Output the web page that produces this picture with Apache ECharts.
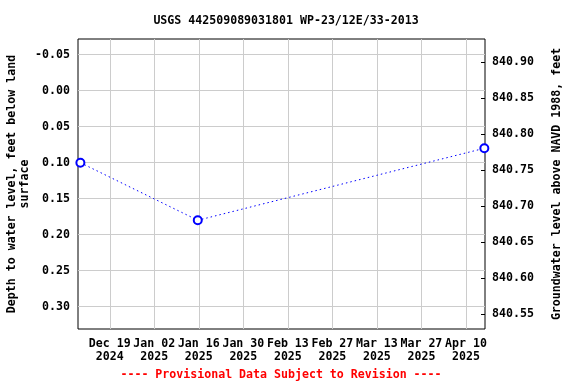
<!DOCTYPE html>
<html>
<head>
<meta charset="utf-8">
<script src="https://cdn.jsdelivr.net/npm/echarts@6/dist/echarts.min.js"></script>
<style>html,body{margin:0;padding:0;background:#fff}#c{width:576px;height:384px}</style>
</head>
<body>
<div id="c"></div>
<script>
const titleText = 'USGS 442509089031801 WP-23/12E/33-2013';
const sampleDates = ['2024-12-09T18:00:00Z', '2025-01-15T16:00:00Z', '2025-04-15T19:00:00Z'];
const depthValues = [0.10, 0.18, 0.08];
const landSurfaceElevation = 840.8606;
const xTickDates = ['2024-12-19', '2025-01-02', '2025-01-16', '2025-01-30', '2025-02-13', '2025-02-27', '2025-03-13', '2025-03-27', '2025-04-10'];
const depthTicks = [-0.05, 0.00, 0.05, 0.10, 0.15, 0.20, 0.25, 0.30];
const levelTicks = [840.55, 840.60, 840.65, 840.70, 840.75, 840.80, 840.85, 840.90];
const xRange = ['2024-12-09T00:00:00Z', '2025-04-16T00:00:00Z'];
const depthRange = [-0.0718, 0.331];

const MONTHS = ['Jan','Feb','Mar','Apr','May','Jun','Jul','Aug','Sep','Oct','Nov','Dec'];
const toMs = s => new Date(s.length === 10 ? s + 'T00:00:00Z' : s).getTime();
const fmtDate = v => {
  const d = new Date(v);
  return MONTHS[d.getUTCMonth()] + ' ' + String(d.getUTCDate()).padStart(2, '0') + '\n' + d.getUTCFullYear();
};
const FONT = 'DejaVu Sans Mono';
const txt = { fontFamily: FONT, fontWeight: 'bold', fontSize: 11.6, color: '#000' };

const chart = echarts.init(document.getElementById('c'), null, { renderer: 'canvas' });
chart.setOption({
  animation: false,
  backgroundColor: '#fff',
  title: {
    text: titleText,
    left: 281, textAlign: 'center', top: 10,
    textStyle: { ...txt }
  },
  graphic: [{
    type: 'text', x: 281, y: 369,
    style: { text: '---- Provisional Data Subject to Revision ----', fill: '#ff0000',
      font: 'bold 11.6px "DejaVu Sans Mono"', textAlign: 'center' }
  }],
  grid: { left: 78, right: 91, top: 39, bottom: 55, outerBoundsMode: 'none', containLabel: false,
    show: true, borderColor: '#000', borderWidth: 1, backgroundColor: 'transparent' },
  xAxis: {
    type: 'value',
    min: toMs(xRange[0]), max: toMs(xRange[1]),
    axisLine: { show: false },
    axisTick: { show: false, customValues: xTickDates.map(toMs) },
    splitLine: { show: true, lineStyle: { color: '#cccccc', width: 1 } },
    axisLabel: { customValues: xTickDates.map(toMs), formatter: fmtDate, margin: 9, lineHeight: 12.5, ...txt }
  },
  yAxis: [{
    type: 'value', inverse: true,
    min: depthRange[0], max: depthRange[1],
    name: 'Depth to water level, feet below land\nsurface',
    nameLocation: 'middle', nameGap: 47, nameMoveOverlap: false,
    nameTextStyle: { ...txt, lineHeight: 13 },
    axisLine: { show: false },
    axisTick: { show: false, customValues: depthTicks },
    splitLine: { show: true, lineStyle: { color: '#cccccc', width: 1 } },
    axisLabel: { customValues: depthTicks, formatter: v => v.toFixed(2), margin: 8, ...txt }
  }, {
    type: 'value', position: 'right',
    min: landSurfaceElevation - depthRange[1], max: landSurfaceElevation - depthRange[0],
    name: 'Groundwater level above NAVD 1988, feet',
    nameLocation: 'middle', nameGap: 66, nameMoveOverlap: false,
    nameTextStyle: { ...txt },
    axisLine: { show: false },
    axisTick: { show: true, inside: true, length: 4, customValues: levelTicks, lineStyle: { color: '#000' } },
    splitLine: { show: false },
    axisLabel: { customValues: levelTicks, formatter: v => v.toFixed(2), margin: 7, ...txt }
  }],
  series: [{
    type: 'line',
    yAxisIndex: 0,
    data: sampleDates.map((d, i) => [toMs(d), depthValues[i]]),
    symbol: 'emptyCircle', symbolSize: 8,
    itemStyle: { color: '#0000ff', borderWidth: 1.5 },
    lineStyle: { color: '#0000ff', width: 1, type: [1.5, 3] },
    clip: false
  }]
});
</script>
</body>
</html>
